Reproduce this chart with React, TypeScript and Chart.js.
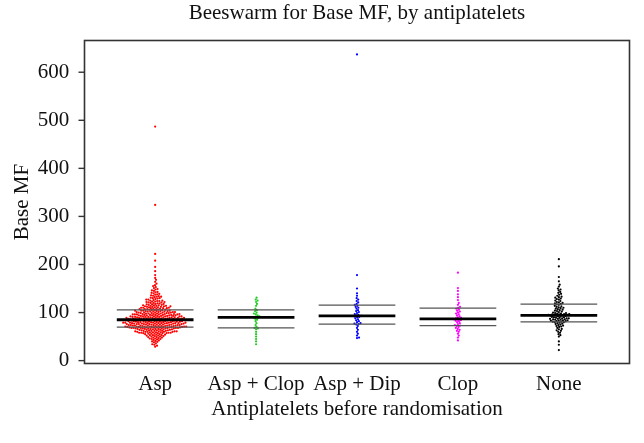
import { useEffect, useRef } from "react";
import { Chart, registerables } from "chart.js";

Chart.register(...registerables);

// ---------------- data ----------------
const categories = ["Asp", "Asp + Clop", "Asp + Dip", "Clop", "None"];
const yTicks = [0, 100, 200, 300, 400, 500, 600];

const aspValues = [
  29, 31, 33, 34,
  36, 38, 39, 40, 41, 42, 43, 44,
  45, 45, 46, 46, 47, 48, 48, 49, 49, 50, 50, 51, 51, 52, 52, 53, 53, 53, 54, 54, 55, 55,
  56, 56, 56, 57, 57, 57, 57, 58, 58, 58, 58, 59, 59, 59, 59, 60, 60, 60, 60, 60,
  61, 61, 61, 61, 62, 62, 62, 62, 62, 63, 63, 63, 63, 64, 64, 64, 64, 65, 65, 65,
  66, 66, 66, 66, 66, 67, 67, 67, 67, 67, 67, 68, 68, 68, 68, 68, 68,
  69, 69, 69, 69, 69, 69, 69, 70, 70, 70, 70, 70, 70, 71, 71, 71, 71, 71, 71,
  72, 72, 72, 72, 72, 72, 73, 73, 73, 73, 73, 73, 74, 74, 74, 74, 74, 74,
  75, 75, 75, 75, 75, 75, 76, 76, 76, 76, 76, 76, 77, 77, 77, 77, 77, 77,
  78, 78, 78, 78, 78, 78, 78, 79, 79, 79, 79, 79, 79, 80, 80, 80, 80, 80, 80, 80,
  81, 81, 81, 81, 81, 81, 82, 82, 82, 82, 82, 82, 83, 83, 83, 83, 83, 83,
  84, 84, 84, 84, 84, 84, 85, 85, 85, 85, 85, 85, 86, 86, 86, 86, 86, 86,
  87, 87, 87, 87, 87, 87, 88, 88, 88, 88, 88, 88, 89, 89, 89, 89, 89, 89,
  90, 90, 90, 90, 90, 90, 91, 91, 91, 91, 91, 92, 92, 92, 92, 92, 92,
  93, 93, 93, 93, 93, 94, 94, 94, 94, 94, 95, 95, 95, 95, 95,
  96, 96, 96, 96, 96, 97, 97, 97, 97, 97, 98, 98, 98, 98, 99, 99, 99, 99,
  100, 100, 100, 100, 100, 101, 101, 101, 101, 102, 102, 102, 102, 103, 103, 103, 103,
  104, 104, 104, 104, 105, 105, 105,
  106, 106, 106, 107, 107, 107, 108, 108, 108, 109, 109, 109, 110, 110, 110,
  111, 111, 111, 112, 112, 112, 113, 113, 113, 114, 114, 114, 115, 115, 115,
  116, 116, 117, 117, 118, 118, 119, 119, 120, 120, 121, 121, 122, 122, 123, 123, 124, 124, 125, 125,
  126, 127, 127, 128, 129, 130, 130, 131, 132, 133, 133, 134, 135,
  136, 137, 138, 139, 140, 141, 142, 143, 145,
  146, 148, 149, 151, 153, 155,
  157, 160, 164, 168, 172, 178, 186, 195, 208, 222, 324, 487,
];

const aspClopValues = [
  131, 127, 125, 122, 118, 114, 108, 105, 103, 100, 98, 96, 94, 92, 91, 90,
  89, 87, 85, 82, 78, 74, 70, 68, 67, 65, 60, 55, 50, 45, 40, 34,
];

const aspDipValues = [
  637, 178, 150, 140, 135, 130, 127, 124, 121, 118, 116, 114, 112, 110, 108, 105,
  103, 101, 99, 97, 95, 94, 93, 92, 91, 90, 88, 86, 84, 82, 80, 78, 77, 76, 75,
  72, 68, 64, 60, 56, 52, 48, 47,
];

const clopValues = [
  183, 151, 145, 138, 132, 126, 120, 116, 112, 110, 108, 106, 104, 102, 100, 98,
  96, 94, 92, 90, 89, 88, 87, 86, 85, 84, 83, 82, 80, 78, 76, 74, 73, 72, 70, 68,
  66, 64, 62, 60, 56, 52, 48, 42,
];

const noneValues = [
  211, 196, 174, 165,
  158, 154, 150, 148, 146,
  143, 141, 139, 137, 135, 133, 132, 131,
  129, 128, 127, 125, 124, 122, 121, 120, 119, 118, 117, 116,
  114, 113, 112, 111, 110, 109, 108, 107, 106, 105, 104, 103, 102, 101,
  100, 99, 99, 98, 98, 97, 97, 96, 96, 95, 95, 95, 94, 94, 94, 93, 93, 92, 91, 90,
  90, 89, 89, 88, 88, 88, 87, 87, 86, 86, 85, 85, 84, 84, 83, 83, 82, 82, 81, 81, 80, 80,
  79, 78, 77, 76, 75, 74, 73, 72, 71, 70,
  68, 66, 65, 63, 62, 60,
  58, 55, 53, 50,
  40, 33, 22,
];

const medians = [85, 90, 93, 87, 94];
const lowerQuartiles = [69.5, 68, 76, 73, 80.5];
const upperQuartiles = [105.5, 105.5, 115.5, 109, 117.5];

// ---------------- styling / layout ----------------
const groups = [aspValues, aspClopValues, aspDipValues, clopValues, noneValues];
const colors = ["#ff0000", "#22cc22", "#0000ff", "#ff00ff", "#000000"];
const W = 644;
const H = 443;
const AREA = { left: 84.5, right: 629.5, top: 40.5, bottom: 363.5 };
const X_MIN = 0.3;
const X_MAX = 5.7;
const Y_MIN = -6;
const Y_MAX = 666;
const HALF = 0.38;
const SERIF = "'Liberation Serif', 'Times New Roman', serif";
const FONT_SIZE = 21;

// beeswarm layout: horizontal offsets so that points don't overlap (pixel space)
function swarm(values: number[], center: number) {
  const pxX = (AREA.right - AREA.left) / (X_MAX - X_MIN);
  const pxY = (AREA.bottom - AREA.top) / (Y_MAX - Y_MIN);
  const d = 2.1;
  const order = values.map((_, i) => i).sort((a, b) => values[a] - values[b]);
  const placed: { x: number; y: number }[] = [];
  const out: { x: number; y: number }[] = [];
  for (const i of order) {
    const y = values[i] * pxY;
    const near = placed.filter((p) => Math.abs(p.y - y) < d);
    const cands = [0];
    for (const p of near) {
      const dx = Math.sqrt(d * d - (p.y - y) * (p.y - y));
      cands.push(p.x + dx, p.x - dx);
    }
    cands.sort((a, b) => Math.abs(a) - Math.abs(b));
    let pick = 0;
    for (const c of cands) {
      if (near.every((p) => (p.x - c) * (p.x - c) + (p.y - y) * (p.y - y) >= d * d - 1e-6)) {
        pick = c;
        break;
      }
    }
    placed.push({ x: pick, y });
    out.push({ x: center + pick / pxX, y: values[i] });
  }
  return out;
}

const boxPlugin = {
  id: "boxPlugin",
  afterDraw(chart: any) {
    const ctx = chart.ctx;
    const area = chart.chartArea;
    const yScale = chart.scales["y"];
    ctx.save();
    ctx.strokeStyle = "#333333";
    ctx.lineWidth = 1.6;
    ctx.strokeRect(area.left, area.top, area.right - area.left, area.bottom - area.top);
    ctx.fillStyle = "#333333";
    for (let k = 0; k < yTicks.length; k++) {
      const py = yScale.getPixelForValue(yTicks[k]);
      ctx.fillRect(area.left - 6, py - 0.7, 6, 1.4);
    }
    ctx.restore();
  },
};

export default function App() {
  const ref = useRef<HTMLCanvasElement | null>(null);

  useEffect(() => {
    document.body.style.margin = "0";
    if (!ref.current) return;
    const font = { family: SERIF, size: FONT_SIZE, weight: "normal" as const };

    const lineSets: any[] = [];
    categories.forEach((_, g) => {
      const specs: [number[], number, string][] = [
        [lowerQuartiles, 1.2, "#555555"],
        [upperQuartiles, 1.2, "#555555"],
        [medians, 2.8, "#000000"],
      ];
      for (const [vals, w, c] of specs) {
        lineSets.push({
          label: "line",
          data: [
            { x: g + 1 - HALF, y: vals[g] },
            { x: g + 1 + HALF, y: vals[g] },
          ],
          showLine: true,
          borderColor: c,
          borderWidth: w,
          pointRadius: 0,
          fill: false,
          order: 0,
        });
      }
    });

    const pointSets = groups.map((vals, g) => ({
      label: categories[g],
      data: swarm(vals, g + 1),
      backgroundColor: colors[g],
      borderWidth: 0,
      pointRadius: 1.1,
      showLine: false,
      order: 1,
    }));

    const chart = new Chart(ref.current, {
      type: "scatter",
      data: { datasets: [...lineSets, ...pointSets] },
      plugins: [boxPlugin],
      options: {
        animation: false,
        responsive: false,
        maintainAspectRatio: false,
        events: [],
        layout: { padding: { top: 0, left: 0, right: W - AREA.right, bottom: 0 } },
        plugins: {
          legend: { display: false },
          tooltip: { enabled: false },
          title: { display: false },
        },
        scales: {
          x: {
            type: "linear",
            min: X_MIN,
            max: X_MAX,
            afterBuildTicks: (s: any) => {
              s.ticks = categories.map((_, i) => ({ value: i + 1 }));
            },
            afterFit: (s: any) => {
              s.height = H - AREA.bottom;
            },
            ticks: {
              autoSkip: false,
              maxRotation: 0,
              padding: 8.5,
              color: "#111",
              font,
              callback: (_v: any, i: number) => categories[i] ?? "",
            },
            grid: { display: true, drawOnChartArea: false, drawTicks: false },
            border: { display: false },
            title: {
              display: true,
              text: "Antiplatelets before randomisation",
              color: "#111",
              font,
              padding: { top: 0, bottom: 20.8 },
            },
          },
          xTop: {
            type: "linear",
            position: "top",
            min: X_MIN,
            max: X_MAX,
            afterFit: (s: any) => {
              s.height = AREA.top;
            },
            ticks: { display: false },
            grid: { display: false, drawTicks: false },
            border: { display: false },
            title: {
              display: true,
              text: "Beeswarm for Base MF, by antiplatelets",
              color: "#111",
              font,
              padding: { top: 1, bottom: 0 },
            },
          },
          y: {
            type: "linear",
            min: Y_MIN,
            max: Y_MAX,
            afterBuildTicks: (s: any) => {
              s.ticks = yTicks.map((v) => ({ value: v }));
            },
            afterFit: (s: any) => {
              s.width = AREA.left;
            },
            ticks: {
              padding: 10.2,
              color: "#111",
              font,
            },
            grid: { display: false, drawTicks: true, tickLength: 5 },
            border: { display: false },
            title: {
              display: true,
              text: "Base MF",
              color: "#111",
              font,
              padding: { top: 10.3, bottom: 0 },
            },
          },
        },
      } as any,
    });
    return () => chart.destroy();
  }, []);

  return (
    <canvas ref={ref} width={W} height={H} style={{ display: "block", width: W, height: H }} />
  );
}
